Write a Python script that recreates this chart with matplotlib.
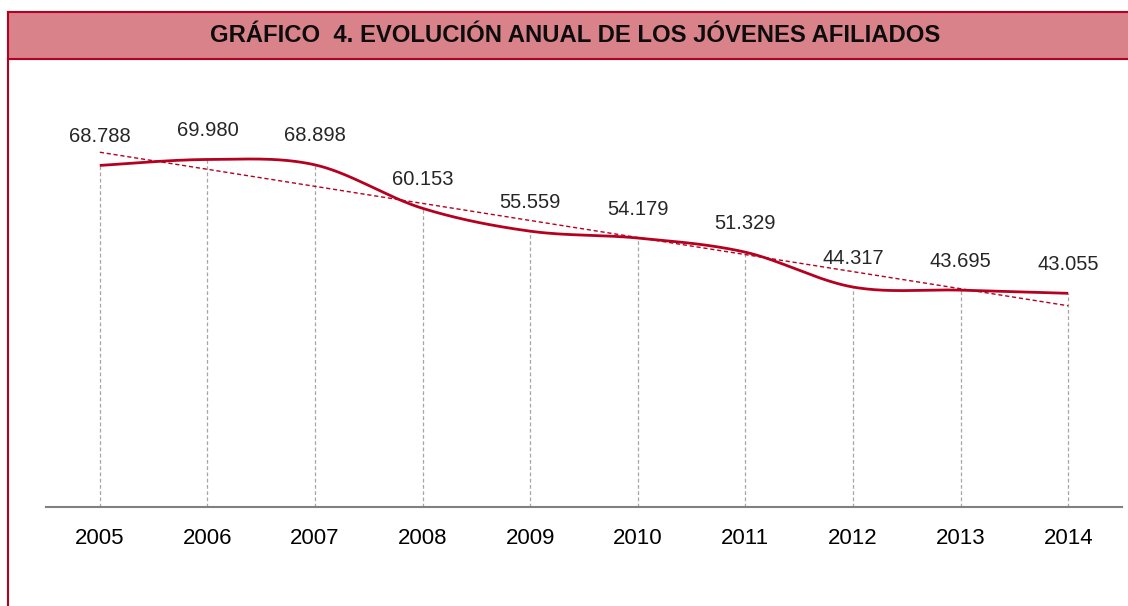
import numpy as np
import matplotlib
matplotlib.use("Agg")
import matplotlib.pyplot as plt
from matplotlib.patches import Rectangle
from matplotlib.lines import Line2D

years = ["2005", "2006", "2007", "2008", "2009", "2010", "2011", "2012", "2013", "2014"]
values = [68788, 69980, 68898, 60153, 55559, 54179, 51329, 44317, 43695, 43055]
value_labels = ["68.788", "69.980", "68.898", "60.153", "55.559", "54.179",
                "51.329", "44.317", "43.695", "43.055"]
title = "GRÁFICO  4. EVOLUCIÓN ANUAL DE LOS JÓVENES AFILIADOS"

RED = "#B5001F"
HEADER = "#D9828A"

plt.rcParams['font.family'] = ['Liberation Sans', 'DejaVu Sans']

fig = plt.figure(figsize=(11.28, 6.06), dpi=100)
W, H = 1128, 606

def fx(px):
    return px / W

def fy(py):
    return 1 - py / H

# header band and frame
fig.patches.append(Rectangle((fx(8), fy(59)), 1 - fx(8), fy(12) - fy(59),
                             transform=fig.transFigure, facecolor=HEADER,
                             edgecolor='none', zorder=0))
for (x0, y0, x1, y1) in [(8, 12, 1128, 12), (8, 59, 1128, 59), (8, 12, 8, 606)]:
    fig.lines.append(Line2D([fx(x0), fx(x1)], [fy(y0), fy(y1)],
                            transform=fig.transFigure, color=RED, lw=1.5))
fig.text(fx(575), fy(35), title, ha='center', va='center', fontsize=17.2,
         fontweight='bold', color='#0d0d0d')

ax = fig.add_axes([fx(46), fy(507.3), fx(1122) - fx(46), fy(109.7) - fy(507.3)])
x = np.arange(len(years))
y = np.array(values, dtype=float)

# smoothed line (Catmull-Rom style bezier)
pts = np.column_stack([x, y])
curve = []
n = len(pts)
for i in range(n - 1):
    p0 = pts[i - 1] if i > 0 else pts[i]
    p1 = pts[i]
    p2 = pts[i + 1]
    p3 = pts[i + 2] if i + 2 < n else pts[i + 1]
    c1 = p1 + (p2 - p0) / 6.0
    c2 = p2 - (p3 - p1) / 6.0
    t = np.linspace(0, 1, 40)[:, None]
    seg = ((1 - t) ** 3) * p1 + 3 * ((1 - t) ** 2) * t * c1 + 3 * (1 - t) * t ** 2 * c2 + t ** 3 * p2
    curve.append(seg if i == 0 else seg[1:])
curve = np.vstack(curve)

# drop lines
ax.vlines(x, 0, y, colors='#A6A6A6', linestyles=(0, (3, 2)), lw=0.9, zorder=1)

# trend line
coef = np.polyfit(x, y, 1)
ax.plot(x, np.polyval(coef, x), color=RED, lw=1.0, ls=(0, (3, 2)), zorder=2)

ax.plot(curve[:, 0], curve[:, 1], color=RED, lw=2.0, zorder=3, solid_capstyle='butt')

for xi, yi, lab in zip(x, y, value_labels):
    ax.annotate(lab, (xi, yi), xytext=(0, 29), textcoords='offset pixels',
                ha='center', va='center', fontsize=14.5, color='#262626')

ax.set_xlim(-0.5, 9.5)
ax.set_ylim(0, 80000)
ax.set_xticks(x)
ax.set_xticklabels(years, fontsize=16, color='#000000')
ax.tick_params(axis='x', length=0, pad=15)
ax.set_yticks([])
for s in ['top', 'right', 'left']:
    ax.spines[s].set_visible(False)
ax.spines['bottom'].set_color('#808080')
ax.spines['bottom'].set_linewidth(1.5)
ax.patch.set_alpha(0)

fig.savefig("out.png", dpi=100)
